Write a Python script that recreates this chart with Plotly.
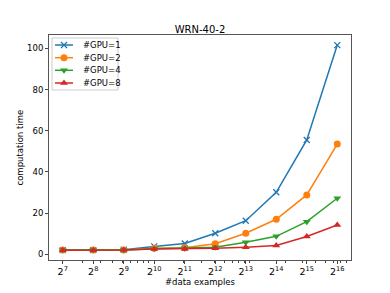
import plotly.graph_objects as go

exponents = [7, 8, 9, 10, 11, 12, 13, 14, 15, 16]
x_vals = [2 ** e for e in exponents]
tick_text = [f"2<sup>{e}</sup>" for e in exponents]

gpu1 = [2.0, 2.0, 2.2, 3.8, 5.2, 10.2, 16.3, 30.1, 55.5, 101.6]
gpu2 = [2.0, 2.0, 2.1, 2.9, 3.2, 5.1, 10.2, 17.0, 28.8, 53.5]
gpu4 = [2.0, 2.0, 2.1, 2.7, 2.9, 3.4, 5.8, 8.7, 15.8, 27.2]
gpu8 = [1.9, 1.9, 2.0, 2.5, 2.6, 2.9, 3.4, 4.2, 8.6, 14.2]

names = ["#GPU=1", "#GPU=2", "#GPU=4", "#GPU=8"]
values = [gpu1, gpu2, gpu4, gpu8]
colors = ["#1f77b4", "#ff7f0e", "#2ca02c", "#d62728"]
symbols = ["x-thin", "circle", "triangle-down", "triangle-up"]

# page has an 8px body margin: figure is shifted, so compensate
OFF = 8
W, H = 390 - OFF, 293 - OFF
PL, PR, PT, PB = 49, 351, 35, 260  # plot area in window pixels

minor_vals = []
for decade in [10, 100, 1000, 10000]:
    for m in range(2, 10):
        minor_vals.append(m * decade)


def mk(sym, color):
    if sym == "x-thin":
        return dict(symbol=sym, size=6, color=color, line=dict(color=color, width=1.3))
    return dict(symbol=sym, size=7, color=color)


fig = go.Figure()
for name, ys, color, sym in zip(names, values, colors, symbols):
    fig.add_trace(go.Scatter(
        x=x_vals, y=ys, name=name, mode="lines+markers",
        line=dict(color=color, width=1.5), marker=mk(sym, color), showlegend=False,
    ))

# legend drawn on an overlay axis measured in window pixels
leg_rows = [45, 57.7, 70.3, 83]
bx0, bx1, by0, by1 = 52, 118, 38, 90
fig.add_trace(go.Scatter(x=[bx0, bx1, bx1, bx0, bx0], y=[by0, by0, by1, by1, by0],
                         mode="lines", fill="toself", fillcolor="white",
                         line=dict(color="#cccccc", width=1), xaxis="x2", yaxis="y2",
                         showlegend=False, hoverinfo="skip"))
for name, color, sym, yy in zip(names, colors, symbols, leg_rows):
    fig.add_trace(go.Scatter(x=[55, 73], y=[yy, yy], mode="lines", xaxis="x2", yaxis="y2",
                             line=dict(color=color, width=1.5), showlegend=False,
                             hoverinfo="skip"))
    fig.add_trace(go.Scatter(x=[64], y=[yy], mode="markers", xaxis="x2", yaxis="y2",
                             marker=mk(sym, color), showlegend=False, hoverinfo="skip"))
    fig.add_annotation(text=name, x=81, y=yy, xref="x2", yref="y2", xanchor="left",
                       yanchor="middle", showarrow=False,
                       font=dict(family="DejaVu Sans", size=8.5, color="black"))

font = dict(family="DejaVu Sans", size=8.5, color="black")
fig.update_layout(
    width=W, height=H,
    margin=dict(l=PL - OFF, r=390 - PR, t=PT - OFF, b=293 - PB),
    paper_bgcolor="white", plot_bgcolor="white",
    font=font,
    showlegend=False,
    title=dict(text="WRN-40-2", x=0.5, xref="paper", y=1 - (29 - OFF) / H, yanchor="middle",
               font=dict(family="DejaVu Sans", size=10, color="black")),
    xaxis=dict(
        type="log", range=[6.55 * 0.30103, 16.45 * 0.30103],
        tickmode="array", tickvals=x_vals, ticktext=tick_text,
        ticks="outside", ticklen=3, tickcolor="#444", tickwidth=1,
        showgrid=False, zeroline=False,
        showline=True, linecolor="#555", linewidth=1, mirror=True,
        minor=dict(tickmode="array", tickvals=minor_vals, ticks="outside", ticklen=2,
                   tickcolor="#444", showgrid=False),
        tickfont=dict(family="DejaVu Sans", size=9.5),
    ),
    yaxis=dict(
        range=[-2.8, 106.5], tickmode="array", tickvals=[0, 20, 40, 60, 80, 100],
        ticks="outside", ticklen=3, tickcolor="#444", tickwidth=1,
        showgrid=False, zeroline=False,
        showline=True, linecolor="#555", linewidth=1, mirror=True,
        tickfont=dict(family="DejaVu Sans", size=8.5),
    ),
    xaxis2=dict(overlaying="x", range=[PL, PR], visible=False, anchor="y2"),
    yaxis2=dict(overlaying="y", range=[PB, PT], visible=False, anchor="x2"),
)
ph = PB - PT
pw = PR - PL
fig.add_annotation(text="#data examples", x=0.5, xref="paper",
                   y=1 - (282 - PT) / ph, yref="paper", yanchor="middle",
                   showarrow=False, font=font)
fig.add_annotation(text="computation time", x=(19 - PL) / pw, xref="paper",
                   y=0.5, yref="paper", textangle=-90, showarrow=False, font=font,
                   xanchor="center", yanchor="middle")
fig.write_html("out.html")
